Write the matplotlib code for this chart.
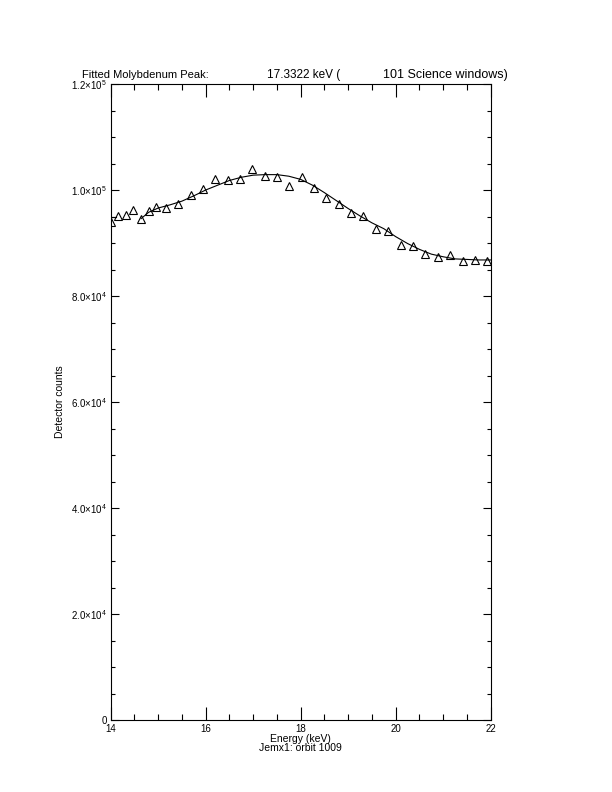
"""Fitted Mo peak from JEM-X1 science windows: data triangles plus fitted curve."""

import matplotlib
matplotlib.use("Agg")
import matplotlib.pyplot as plt
from matplotlib.ticker import MultipleLocator, FixedLocator, FixedFormatter

FONT = ["Liberation Sans", "DejaVu Sans"]
plt.rcParams["font.family"] = FONT
plt.rcParams["mathtext.fontset"] = "custom"
plt.rcParams["mathtext.rm"] = "Liberation Sans"
plt.rcParams["mathtext.it"] = "Liberation Sans"
plt.rcParams["mathtext.default"] = "regular"

# measured spectrum points (keV, counts)
energy = [14.00, 14.15, 14.32, 14.47, 14.64, 14.81, 14.95, 15.16, 15.42, 15.69,
          15.94, 16.19, 16.47, 16.72, 16.97, 17.25, 17.50, 17.75, 18.03, 18.28,
          18.53, 18.81, 19.06, 19.31, 19.59, 19.84, 20.11, 20.36, 20.62, 20.89,
          21.14, 21.41, 21.66, 21.92]
counts = [93960, 95090, 95280, 96230, 94530, 96040, 96790, 96600, 97360, 99060,
          100190, 102080, 101890, 102080, 103870, 102640, 102450, 100750, 102450, 100380,
          98580, 97360, 95660, 95090, 92640, 92260, 89680, 89430, 87980, 87360,
          87740, 86600, 86790, 86600]

# fitted model curve
fit_energy = [14.64, 14.80, 15.00, 15.25, 15.50, 15.75, 16.00, 16.25, 16.50, 16.75,
              17.00, 17.25, 17.50, 17.75, 18.00, 18.25, 18.50, 18.75, 19.00, 19.25,
              19.50, 19.75, 20.00, 20.25, 20.50, 20.75, 21.00, 21.25, 21.50, 21.75, 22.00]
fit_counts = [94600, 95800, 96600, 97200, 97900, 98900, 100000, 100900, 101800, 102400,
              102800, 102900, 102900, 102600, 102000, 100900, 99500, 98000, 96500, 95100,
              93800, 92700, 91200, 89900, 88800, 87900, 87400, 87000, 86900, 86800, 86800]
stub_energy = [14.00, 14.12]
stub_counts = [95000, 95000]

ytick_vals = [0, 20000, 40000, 60000, 80000, 100000, 120000]
ytick_text = ["0", r"$2.0{\times}10^{4}$", r"$4.0{\times}10^{4}$", r"$6.0{\times}10^{4}$",
              r"$8.0{\times}10^{4}$", r"$1.0{\times}10^{5}$", r"$1.2{\times}10^{5}$"]

fig = plt.figure(figsize=(6.12, 7.92), dpi=100)
ax = fig.add_axes([110.7 / 612, 72 / 792, 380 / 612, 636 / 792])

ax.plot(fit_energy, fit_counts, color="black", lw=0.8)
ax.plot(stub_energy, stub_counts, color="black", lw=0.8)
ax.plot(energy, counts, ls="none", marker="^", ms=5.5, mfc="none",
        mec="black", mew=0.8, clip_on=True)

ax.set_xlim(14, 22)
ax.set_ylim(0, 120000)
ax.xaxis.set_major_locator(MultipleLocator(2))
ax.xaxis.set_minor_locator(MultipleLocator(0.5))
ax.yaxis.set_major_locator(FixedLocator(ytick_vals))
ax.yaxis.set_major_formatter(FixedFormatter(ytick_text))
ax.yaxis.set_minor_locator(MultipleLocator(5000))

for s in ax.spines.values():
    s.set_linewidth(0.8)
ax.tick_params(axis="x", which="major", direction="in", length=9.4, width=0.8,
               top=True, labelsize=7, pad=3)
ax.tick_params(axis="x", which="minor", direction="in", length=4.3, width=0.8, top=True)
ax.tick_params(axis="y", which="major", direction="in", length=5.8, width=0.8,
               right=True, labelsize=7, pad=3)
ax.tick_params(axis="y", which="minor", direction="in", length=2.9, width=0.8, right=True)

ax.set_ylabel("Detector counts", fontsize=7.5, labelpad=4)
fig.text(300.7 / 612, 1 - 739 / 792, "Energy (keV)", ha="center", va="center", fontsize=7.5)
fig.text(300.7 / 612, 1 - 748 / 792, "Jemx1: orbit 1009", ha="center", va="center", fontsize=7.5)

ty = 1 - 75 / 792
fig.text(82 / 612, ty, "Fitted Molybdenum Peak:", ha="left", va="center", fontsize=8)
fig.text(267 / 612, ty, "17.3322 keV (", ha="left", va="center", fontsize=8.5)
fig.text(383 / 612, ty, "101 Science windows)", ha="left", va="center", fontsize=9)

fig.savefig("out.png", dpi=100, facecolor="white")
